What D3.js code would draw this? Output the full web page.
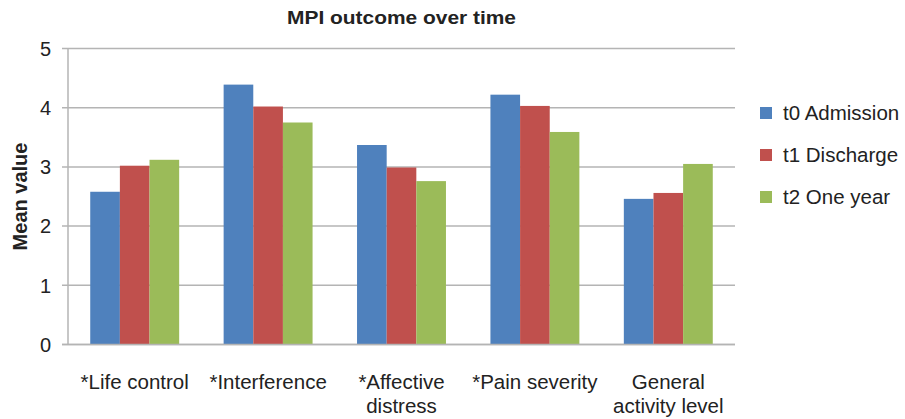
<!DOCTYPE html>
<html><head><meta charset="utf-8">
<script src="https://cdn.jsdelivr.net/npm/d3@7"></script>
<style>body{margin:0;background:#fff}svg{display:block}</style>
</head><body><svg id="c" width="905" height="419"></svg>
<script>
const categories = [["*Life control"],["*Interference"],["*Affective","distress"],["*Pain severity"],["General","activity level"]];
const seriesNames = ["t0 Admission","t1 Discharge","t2 One year"];
const t0 = [2.58, 4.39, 3.37, 4.22, 2.46];
const t1 = [3.02, 4.02, 2.99, 4.03, 2.56];
const t2 = [3.12, 3.75, 2.76, 3.59, 3.05];
const colors = ["#4f81bd","#c0504d","#9bbb59"];
const yTicks = [0,1,2,3,4,5];
const title = "MPI outcome over time";
const yTitle = "Mean value";

const series = [t0,t1,t2];
const svg = d3.select("#c");
const L=68, R=735, T=48.5, B=344.5;
const font = "'Liberation Sans', Arial, sans-serif";
const x = d3.scaleBand().domain(d3.range(categories.length)).range([L,R]).paddingInner(0).paddingOuter(0);
const y = d3.scaleLinear().domain([0,5]).range([B,T]);
const bw = x.bandwidth()/4.5;

// gridlines
svg.append("g").selectAll("line").data(yTicks).join("line")
  .attr("x1",L-6).attr("x2",R).attr("y1",d=>y(d)).attr("y2",d=>y(d))
  .attr("stroke","#b4b4b4").attr("stroke-width",1.5);
// y axis line
svg.append("line").attr("x1",L).attr("x2",L).attr("y1",T).attr("y2",B).attr("stroke","#b4b4b4").attr("stroke-width",1.5);

// bars
series.forEach((s,si)=>{
  svg.append("g").selectAll("rect").data(s).join("rect")
    .attr("x",(d,i)=>x(i)+x.bandwidth()/2-1.5*bw+si*bw)
    .attr("width",bw)
    .attr("y",d=>y(d)).attr("height",d=>y(0)-y(d))
    .attr("fill",colors[si]);
});
svg.append("line").attr("x1",L-6).attr("x2",R).attr("y1",y(0)).attr("y2",y(0)).attr("stroke","#b4b4b4").attr("stroke-width",1.5);

// y tick labels
svg.append("g").selectAll("text").data(yTicks).join("text")
  .attr("x",51).attr("y",d=>y(d)).attr("dy","0.36em").attr("text-anchor","end")
  .attr("font-family",font).attr("font-size",20).attr("fill","#222").text(d=>d);

// category labels
const cl = svg.append("g").selectAll("text").data(categories).join("text")
  .attr("x",(d,i)=>x(i)+x.bandwidth()/2).attr("y",389).attr("text-anchor","middle")
  .attr("font-family",font).attr("font-size",20.5).attr("fill","#222");
cl.selectAll("tspan").data(d=>d).join("tspan")
  .attr("x",function(){return d3.select(this.parentNode).attr("x");})
  .attr("dy",(d,i)=>i?24:0).text(d=>d);

// title
svg.append("text").attr("x",(L+R)/2).attr("y",24).attr("text-anchor","middle")
  .attr("font-family",font).attr("font-weight","bold").attr("font-size",19)
  .attr("textLength",229).attr("lengthAdjust","spacingAndGlyphs").attr("fill","#222").text(title);
// y title
svg.append("text").attr("transform",`translate(27,${(T+B)/2}) rotate(-90)`).attr("text-anchor","middle")
  .attr("font-family",font).attr("font-weight","bold").attr("font-size",20).attr("fill","#222").text(yTitle);

// legend
const lg = svg.append("g").selectAll("g").data(seriesNames).join("g")
  .attr("transform",(d,i)=>`translate(760,${113+i*42})`);
lg.append("rect").attr("x",0).attr("y",-6).attr("width",12).attr("height",12).attr("fill",(d,i)=>colors[i]);
lg.append("text").attr("x",23).attr("y",0).attr("dy","0.36em")
  .attr("font-family",font).attr("font-size",20.5).attr("fill","#222").text(d=>d);
</script></body></html>
